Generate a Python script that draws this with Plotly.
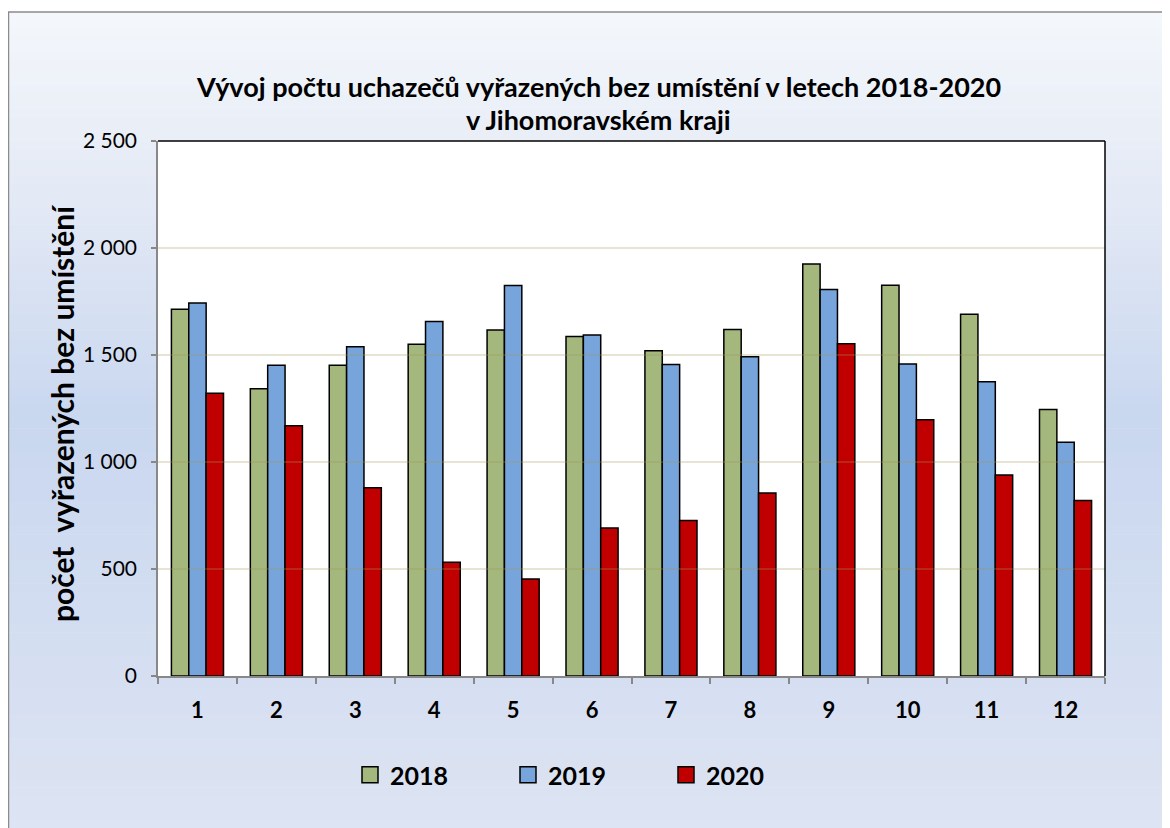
import plotly.graph_objects as go

months = ["1", "2", "3", "4", "5", "6", "7", "8", "9", "10", "11", "12"]
v2018 = [1714, 1342, 1452, 1550, 1617, 1586, 1520, 1619, 1925, 1826, 1690, 1245]
v2019 = [1743, 1452, 1538, 1656, 1825, 1594, 1456, 1492, 1806, 1458, 1375, 1092]
v2020 = [1321, 1169, 880, 531, 453, 692, 727, 855, 1552, 1198, 939, 820]
series_names = ["2018", "2019", "2020"]
series_colors = ["#A4B77C", "#77A4DA", "#C00000"]
y_ticks = [0, 500, 1000, 1500, 2000, 2500]

# the page has an 8px body margin; figure coords = page coords - 8
OFF = 8
W, H = 1170 - OFF, 828 - OFF
L, R, T, B = 158 - OFF, 1105 - OFF, 141 - OFF, 676 - OFF
PW, PH = R - L, B - T


def px(x):
    return (x - OFF - L) / PW


def py(y):
    return (B - (y - OFF)) / PH


FONT = "Lato"

fig = go.Figure()
for name, vals, col in zip(series_names, [v2018, v2019, v2020], series_colors):
    fig.add_trace(go.Bar(
        x=months, y=vals, name=name, showlegend=False, legendgroup=name,
        marker=dict(color=col, line=dict(color="#000000", width=1.5)),
    ))
# legend entries with larger square swatches
for name, col in zip(series_names, series_colors):
    fig.add_trace(go.Scatter(
        x=[None], y=[None], mode="markers", name=name, legendgroup=name,
        marker=dict(symbol="square", size=18, color=col, line=dict(color="#000000", width=1.5)),
    ))

shapes = []
stops = [(12, (244, 247, 251)), (200, (227, 233, 245)), (420, (201, 215, 239)), (828, (221, 228, 243))]


def col_at(y):
    for (y0, c0), (y1, c1) in zip(stops[:-1], stops[1:]):
        if y0 <= y <= y1:
            t = (y - y0) / (y1 - y0)
            return tuple(int(round(a + (b - a) * t)) for a, b in zip(c0, c1))
    return stops[-1][1]


n = 100
step = (828 - 12) / n
for i in range(n):
    y0 = 12 + i * step
    y1 = y0 + step + 0.6
    c = col_at(y0 + step / 2)
    shapes.append(dict(type="rect", xref="paper", yref="paper",
                       x0=px(8), x1=px(1190), y0=py(min(y1, 840)), y1=py(y0),
                       fillcolor="rgb(%d,%d,%d)" % c, line=dict(width=0), layer="below"))
shapes.append(dict(type="rect", xref="paper", yref="paper",
                   x0=px(8.5), x1=px(1200), y0=py(860), y1=py(12),
                   fillcolor="rgba(0,0,0,0)", line=dict(color="#8C8C8C", width=1.5), layer="below"))
shapes.append(dict(type="rect", xref="paper", yref="paper", x0=0, x1=1, y0=0, y1=1,
                   fillcolor="#FFFFFF", line=dict(width=0), layer="below"))
for v in y_ticks[1:-1]:
    shapes.append(dict(type="line", xref="paper", yref="y", x0=0, x1=1, y0=v, y1=v,
                       line=dict(color="rgba(160,150,90,0.35)", width=1.5), layer="above"))
shapes.append(dict(type="line", xref="paper", yref="paper", x0=0, x1=1, y0=1, y1=1,
                   line=dict(color="#000000", width=1.5), layer="above"))
shapes.append(dict(type="line", xref="paper", yref="paper", x0=1, x1=1, y0=0, y1=1,
                   line=dict(color="#000000", width=1.5), layer="above"))

annotations = [
    dict(text="<b>Vývoj počtu uchazečů vyřazených bez umístění v letech 2018-2020</b>",
         xref="paper", yref="paper", x=px(598), y=py(87), showarrow=False,
         font=dict(family=FONT, size=27, color="#000000"), xanchor="center", yanchor="middle"),
    dict(text="<b>v Jihomoravském kraji</b>",
         xref="paper", yref="paper", x=px(598), y=py(120), showarrow=False,
         font=dict(family=FONT, size=27, color="#000000"), xanchor="center", yanchor="middle"),
    dict(text="<b>počet\u00a0\u00a0vyřazených bez umístění</b>",
         xref="paper", yref="paper", x=px(62), y=py(413), showarrow=False, textangle=-90,
         font=dict(family=FONT, size=30, color="#000000"), xanchor="center", yanchor="middle"),
]

fig.update_layout(
    width=W, height=H,
    margin=dict(l=L, r=W - R, t=T, b=H - B, pad=0),
    paper_bgcolor="#FFFFFF",
    plot_bgcolor="rgba(0,0,0,0)",
    separators=", ",
    barmode="group",
    bargap=0.34,
    bargroupgap=0,
    font=dict(family=FONT, color="#000000"),
    shapes=shapes,
    annotations=annotations,
    showlegend=True,
    legend=dict(orientation="h", x=px(350), y=py(775), xanchor="left", yanchor="middle",
                bgcolor="rgba(0,0,0,0)", entrywidth=113, entrywidthmode="pixels",
                font=dict(family=FONT, size=25, color="#000000", weight="bold"),
                itemsizing="trace"),
    xaxis=dict(type="category", tickson="boundaries", ticks="outside", ticklen=6,
               tickcolor="#888888", tickwidth=1.5, showline=True, linecolor="#888888",
               linewidth=1.5, showgrid=False, ticklabelstandoff=14,
               tickfont=dict(family=FONT, size=22, color="#000000", weight="bold")),
    yaxis=dict(range=[0, 2500], tickvals=y_ticks, tickformat=",d", ticks="outside",
               ticklen=5, tickcolor="#888888", tickwidth=1.5, showline=True,
               linecolor="#888888", linewidth=1.5, showgrid=False, zeroline=False,
               ticklabelstandoff=10,
               tickfont=dict(family=FONT, size=21, color="#000000")),
)

fig.write_html("out.html")
